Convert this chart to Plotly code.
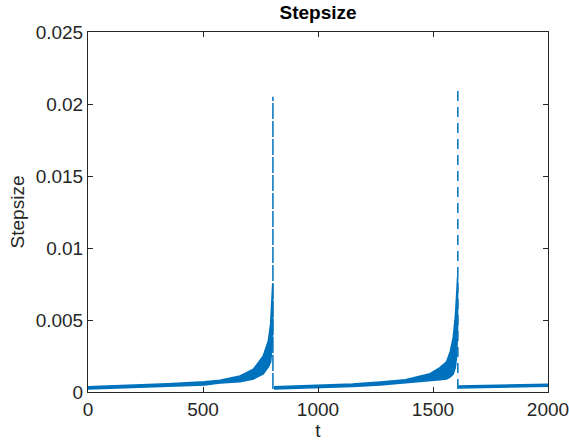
import plotly.graph_objects as go

# ---- data ----
seg1_t = [0, 174, 348, 507, 574, 661, 719, 762, 784, 794, 800, 803]
seg1_lo = [0.00021, 0.00033, 0.00040, 0.00049, 0.00063, 0.00072, 0.00090, 0.00125, 0.00174, 0.00208, 0.0030, 0.0045]
seg1_hi = [0.00037, 0.00046, 0.00058, 0.00071, 0.00081, 0.00111, 0.00158, 0.00250, 0.00354, 0.00470, 0.0062, 0.0075]

seg2_t = [809, 980, 1150, 1270, 1380, 1487, 1530, 1559, 1575, 1588, 1597, 1603, 1607]
seg2_lo = [0.00021, 0.00031, 0.00038, 0.00049, 0.00062, 0.00079, 0.00085, 0.00090, 0.00105, 0.00125, 0.0017, 0.0025, 0.0045]
seg2_hi = [0.00037, 0.00044, 0.00055, 0.00069, 0.00085, 0.00127, 0.00170, 0.00210, 0.00280, 0.00380, 0.0052, 0.0068, 0.0080]

seg3_t = [1610, 1800, 2000]
seg3_lo = [0.00027, 0.00032, 0.00040]
seg3_hi = [0.00042, 0.00048, 0.00053]

spike_t = [804, 1608]
spike_top = [0.0205, 0.0210]
spike_base = [0.0002, 0.0002]

x_ticks = [0, 500, 1000, 1500, 2000]
y_ticks = [0, 0.005, 0.01, 0.015, 0.02, 0.025]
y_tick_text = ["0", "0.005", "0.01", "0.015", "0.02", "0.025"]

# ---- styling ----
BLUE = "#0072BD"
AX = "#262626"
FONT = "Liberation Sans, Arial, Helvetica, sans-serif"
spike_dash = ["16px,2px", "10px,6px"]

fig = go.Figure()

for t, lo, hi in [(seg1_t, seg1_lo, seg1_hi), (seg2_t, seg2_lo, seg2_hi), (seg3_t, seg3_lo, seg3_hi)]:
    fig.add_trace(go.Scatter(
        x=list(t) + list(t)[::-1],
        y=list(hi) + list(lo)[::-1],
        mode="lines", fill="toself", fillcolor=BLUE,
        line=dict(color=BLUE, width=1.5),
        hoverinfo="skip", showlegend=False,
    ))

for i, ts in enumerate(spike_t):
    fig.add_trace(go.Scatter(
        x=[ts, ts], y=[spike_base[i], spike_top[i]],
        mode="lines", line=dict(color=BLUE, width=1.5, dash=spike_dash[i]),
        showlegend=False,
    ))

fig.update_layout(
    width=569, height=442,
    margin=dict(l=88, r=21, t=32, b=50, autoexpand=False),
    paper_bgcolor="white", plot_bgcolor="white",
    font=dict(family=FONT, size=19, color=AX),
    title=dict(text="<b>Stepsize</b>", x=0.5, xref="paper", xanchor="center",
               y=0.973, yref="container", yanchor="middle",
               font=dict(family=FONT, size=19, color="black")),
    showlegend=False,
)

axis_common = dict(
    showline=True, linecolor=AX, linewidth=1, mirror="allticks",
    ticks="inside", ticklen=5, tickcolor=AX, tickwidth=1,
    showgrid=False, zeroline=False, automargin=False,
    ticklabeloverflow="allow",
    tickfont=dict(family=FONT, size=19, color=AX),
)

fig.update_xaxes(range=[0, 2000], tickvals=x_ticks, ticktext=[str(v) for v in x_ticks],
                 title=dict(text="t", font=dict(family=FONT, size=19, color=AX), standoff=2),
                 **axis_common)
fig.update_yaxes(range=[0, 0.025], tickvals=y_ticks, ticktext=y_tick_text,
                 title=dict(text="Stepsize", font=dict(family=FONT, size=19, color=AX), standoff=6),
                 **axis_common)

fig.write_html("out.html", config={"displayModeBar": False},
               post_script="document.body.style.margin='0';")
